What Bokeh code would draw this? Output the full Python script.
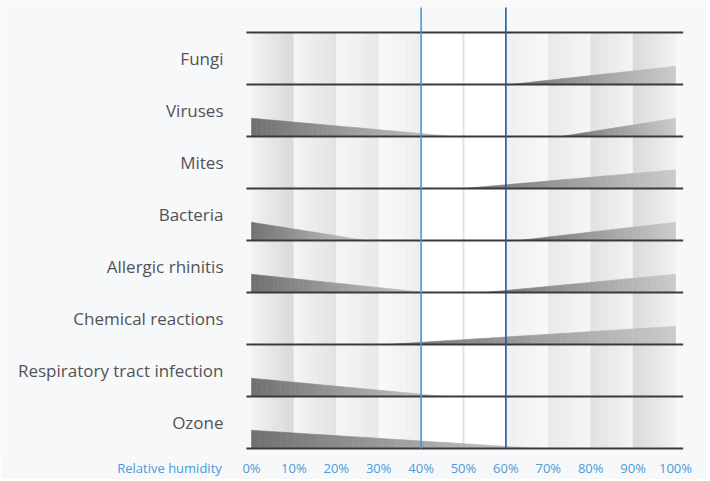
from bokeh.plotting import figure
from bokeh.models import Range1d, FixedTicker, ColumnDataSource
from bokeh.core.properties import value
from bokeh.embed import file_html
from bokeh.resources import INLINE

# ---- data ----
categories = ["Fungi", "Viruses", "Mites", "Bacteria", "Allergic rhinitis",
              "Chemical reactions", "Respiratory tract infection", "Ozone"]
# humidity (%) where the low-humidity risk fades out (None = no risk at low humidity)
low_end = [None, 48, None, 27, 41, None, 46, 68]
# humidity (%) where the high-humidity risk starts (None = no risk at high humidity)
high_start = [61, 73, 50, 63, 55, 32, None, None]
# relative risk intensity at the extremes (0% / 100%)
low_peak = [0, 0.35, 0, 0.35, 0.35, 0, 0.35, 0.35]
high_peak = [0.35, 0.35, 0.36, 0.35, 0.35, 0.35, 0, 0]
tick_values = [0, 10, 20, 30, 40, 50, 60, 70, 80, 90, 100]
tick_labels = ["0%", "10%", "20%", "30%", "40%", "50%", "60%", "70%", "80%", "90%", "100%"]
axis_title = "Relative humidity"
optimum_low, optimum_high = 40, 60

n_rows = len(categories)

def hex2rgb(h):
    h = h.lstrip("#")
    return [int(h[i:i + 2], 16) for i in (0, 2, 4)]

def lerp(c1, c2, t):
    a, b = hex2rgb(c1), hex2rgb(c2)
    return "#%02x%02x%02x" % tuple(int(round(a[i] + (b[i] - a[i]) * t)) for i in range(3))

BG = "#f7f8fa"
p = figure(frame_width=706, frame_height=452, output_backend="svg", toolbar_location=None,
           x_range=Range1d(-59.198, 107.311), y_range=Range1d(-0.0769, 8.6154),
           min_border_left=0, min_border_right=0, min_border_top=0, min_border_bottom=24,
           background_fill_color=BG, border_fill_color=BG, outline_line_color=None,
           y_axis_location=None)
p.grid.visible = False

# ---- background column gradients ----
col_defs = [
    (0, 10, "#f3f3f5", "#d9d9db"),
    (10, 20, "#f5f5f7", "#e2e2e4"),
    (20, 30, "#f7f7f8", "#e8e8ea"),
    (30, 40, "#f9f9fa", "#eeeef0"),
    (40, 60, "#ffffff", "#ffffff"),
    (60, 70, "#eeeff1", "#f8f8f9"),
    (70, 80, "#e7e8ea", "#f6f6f7"),
    (80, 90, "#e1e1e3", "#f4f4f6"),
    (90, 100, "#d9d9db", "#f2f2f4"),
]
bl, br, bc = [], [], []
NS = 12
for (a, b, c1, c2) in col_defs:
    for k in range(NS):
        bl.append(a + (b - a) * k / NS)
        br.append(a + (b - a) * (k + 1) / NS)
        bc.append(lerp(c1, c2, (k + 0.5) / NS))
p.quad(left=bl, right=br, bottom=0, top=n_rows, fill_color=bc, line_color=bc, line_width=0.5)

# 50% light line
p.segment(x0=[50], y0=[0], x1=[50], y1=[n_rows], line_color="#e3e3e5", line_width=2)

# ---- risk wedges ----
DARK, LIGHT = "#707072", "#cbcbcd"
N = 40
xs, ys, cs = [], [], []
for i, cat in enumerate(categories):
    base = n_rows - 1 - i
    if low_end[i] is not None:
        e, h = low_end[i], low_peak[i]
        for k in range(N):
            xa, xb = e * k / N, e * (k + 1) / N
            ha, hb = h * (1 - k / N), h * (1 - (k + 1) / N)
            xs.append([xa, xb, xb, xa])
            ys.append([base, base, base + hb, base + ha])
            cs.append(lerp(DARK, LIGHT, (k + 0.5) / N))
    if high_start[i] is not None:
        s, h = high_start[i], high_peak[i]
        for k in range(N):
            xa, xb = s + (100 - s) * k / N, s + (100 - s) * (k + 1) / N
            ha, hb = h * k / N, h * (k + 1) / N
            xs.append([xa, xb, xb, xa])
            ys.append([base, base, base + hb, base + ha])
            cs.append(lerp(DARK, LIGHT, (k + 0.5) / N))
p.patches(xs=xs, ys=ys, fill_color=cs, line_color=cs, line_width=0.6)

# ---- row separator lines ----
p.segment(x0=[-1.2] * (n_rows + 1), y0=list(range(n_rows + 1)),
          x1=[101.8] * (n_rows + 1), y1=list(range(n_rows + 1)),
          line_color="#3a3a3c", line_width=2)

# optimum boundaries
p.segment(x0=[optimum_low], y0=[0], x1=[optimum_low], y1=[8.48], line_color="#3d9ddc", line_width=1.6)
p.segment(x0=[optimum_high], y0=[0], x1=[optimum_high], y1=[8.48], line_color="#1d5f98", line_width=1.6)

# ---- category labels ----
src = ColumnDataSource(dict(x=[-6.6] * n_rows,
                            y=[n_rows - 0.5 - i for i in range(n_rows)],
                            t=categories))
p.text(x="x", y="y", text="t", source=src, text_align="right", text_baseline="middle",
       text_font=value("Open Sans"), text_font_size="17px", text_color="#535355")

# ---- x axis ----
title_pos = -19.34
ticks = [title_pos] + tick_values
p.xaxis.ticker = FixedTicker(ticks=ticks)
ov = {title_pos: axis_title}
for v_, l_ in zip(tick_values, tick_labels):
    ov[v_] = l_
p.xaxis.major_label_overrides = ov
p.xaxis.axis_line_color = None
p.xaxis.major_tick_line_color = None
p.xaxis.minor_tick_line_color = None
p.xaxis.major_tick_out = 0
p.xaxis.major_tick_in = 0
p.xaxis.major_label_standoff = 6
p.xaxis.major_label_text_font = "Open Sans"
p.xaxis.major_label_text_font_size = "13px"
p.xaxis.major_label_text_color = "#4a9bd6"

open("out.html", "w").write(file_html(p, INLINE))
